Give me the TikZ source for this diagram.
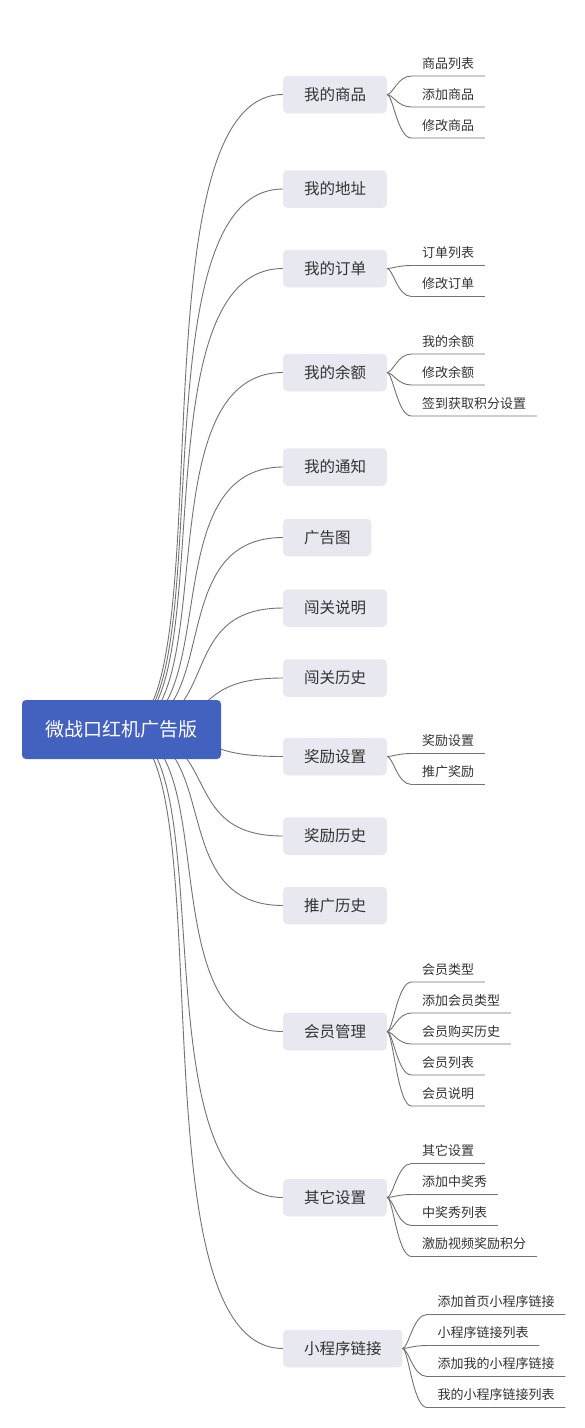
\documentclass[tikz,border=0pt]{standalone}
\usepackage{fontspec}
\newfontfamily\cjk{Noto Sans CJK SC}
\usetikzlibrary{calc}
\pgfdeclarelayer{back}
\pgfdeclarelayer{lines}
\pgfsetlayers{back,lines,main}
\definecolor{rootblue}{RGB}{67,97,190}
\definecolor{topicbg}{RGB}{232,232,241}
\definecolor{txt}{RGB}{51,51,51}
\definecolor{linegray}{RGB}{115,115,115}
\tikzset{
  rootnode/.style={fill=rootblue, rounded corners=4pt, minimum width=199pt, minimum height=59pt, inner sep=0pt, text=white, font=\cjk\fontsize{19}{22}\selectfont},
  topic/.style={fill=topicbg, rounded corners=4pt, minimum height=37.5pt, inner xsep=20.8pt, inner ysep=0pt, text=txt, anchor=west, font=\cjk\fontsize{15.5}{18}\selectfont},
  sub/.style={anchor=south west, minimum height=25pt, inner xsep=10.5pt, inner ysep=0pt, text=txt, font=\cjk\fontsize{13}{15}\selectfont},
  mainline/.style={draw=linegray, line width=0.9pt},
  subline/.style={draw=linegray, line width=0.9pt},
}
\begin{document}
\begin{tikzpicture}[x=1pt,y=-1pt]
\begin{pgfonlayer}{back}
\fill[white] (0,0) rectangle (585,1428);
\end{pgfonlayer}
\useasboundingbox (0,0) rectangle (585,1428);

\node[rootnode] (root) at (121.5,729.5) {微战口红机广告版};

\node[topic] (t1) at (283,94.5) {我的商品};
\node[topic] (t2) at (283,189) {我的地址};
\node[topic] (t3) at (283,268.5) {我的订单};
\node[topic] (t4) at (283,372.5) {我的余额};
\node[topic] (t5) at (283,467) {我的通知};
\node[topic] (t6) at (283,537.5) {广告图};
\node[topic] (t7) at (283,608) {闯关说明};
\node[topic] (t8) at (283,678) {闯关历史};
\node[topic] (t9) at (283,756.5) {奖励设置};
\node[topic] (t10) at (283,836) {奖励历史};
\node[topic] (t11) at (283,905.5) {推广历史};
\node[topic] (t12) at (283,1031.5) {会员管理};
\node[topic] (t13) at (283,1197.5) {其它设置};
\node[topic] (t14) at (283,1348.5) {小程序链接};

\node[sub] (s1a) at (411.5,76) {商品列表};
\node[sub] (s1b) at (411.5,107) {添加商品};
\node[sub] (s1c) at (411.5,138) {修改商品};
\node[sub] (s3a) at (411.5,265.5) {订单列表};
\node[sub] (s3b) at (411.5,296.5) {修改订单};
\node[sub] (s4a) at (411.5,354) {我的余额};
\node[sub] (s4b) at (411.5,385) {修改余额};
\node[sub] (s4c) at (411.5,416) {签到获取积分设置};
\node[sub] (s9a) at (411.5,753.5) {奖励设置};
\node[sub] (s9b) at (411.5,784.5) {推广奖励};
\node[sub] (s12a) at (411.5,982) {会员类型};
\node[sub] (s12b) at (411.5,1013) {添加会员类型};
\node[sub] (s12c) at (411.5,1044) {会员购买历史};
\node[sub] (s12d) at (411.5,1075) {会员列表};
\node[sub] (s12e) at (411.5,1106) {会员说明};
\node[sub] (s13a) at (411.5,1163.5) {其它设置};
\node[sub] (s13b) at (411.5,1194.5) {添加中奖秀};
\node[sub] (s13c) at (411.5,1225.5) {中奖秀列表};
\node[sub] (s13d) at (411.5,1256.5) {激励视频奖励积分};
\node[sub] (s14a) at (427,1314.5) {添加首页小程序链接};
\node[sub] (s14b) at (427,1345.5) {小程序链接列表};
\node[sub] (s14c) at (427,1376.5) {添加我的小程序链接};
\node[sub] (s14d) at (427,1407.5) {我的小程序链接列表};

\begin{pgfonlayer}{lines}
\foreach \n/\cx/\cy in {t1/128/94.5, t2/129.4/189, t3/132.8/268.5, t4/140.4/372.5, t5/150.2/467, t6/159.5/537.5, t7/170.4/608, t8/182.8/678, t9/187.7/756.5, t10/173.1/836, t11/162/905.5, t12/145.9/1031.5, t13/132.5/1197.5, t14/128/1348.5}
  \draw[mainline] (root.center) .. controls (227,730) and (\cx,\cy) .. (\n.west);
\end{pgfonlayer}

\foreach \p/\c in {t1/s1a, t1/s1b, t1/s1c, t3/s3a, t3/s3b, t4/s4a, t4/s4b, t4/s4c, t9/s9a, t9/s9b, t12/s12a, t12/s12b, t12/s12c, t12/s12d, t12/s12e, t13/s13a, t13/s13b, t13/s13c, t13/s13d, t14/s14a, t14/s14b, t14/s14c, t14/s14d}
  \draw[subline] (\p.east) .. controls +(6,0) and +(-14,0) .. (\c.south west) -- (\c.south east);
\end{tikzpicture}
\end{document}
